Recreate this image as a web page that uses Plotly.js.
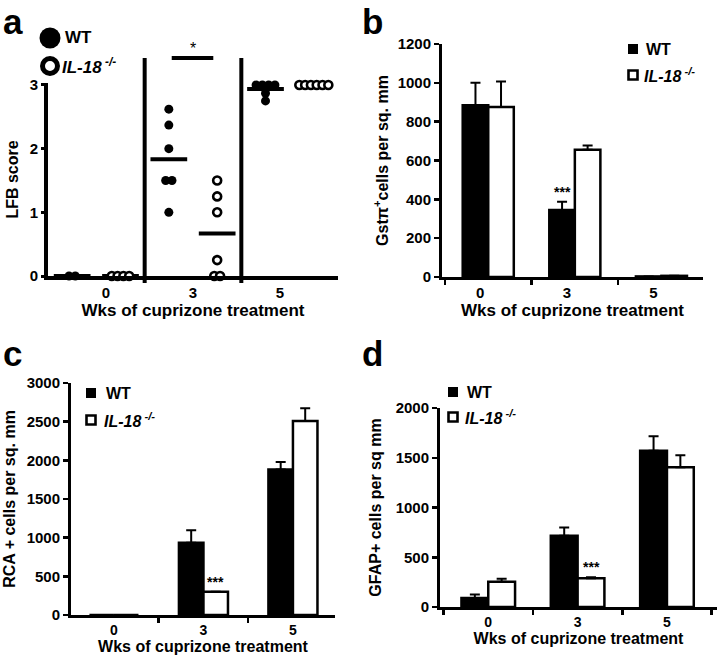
<!DOCTYPE html>
<html><head><meta charset="utf-8">
<script src="https://cdn.plot.ly/plotly-3.0.1.min.js"></script>
<style>html,body{margin:0;padding:0;background:#fff}</style>
</head><body><div id="chart" style="width:720px;height:655px"></div>
<script>
// ---------------- data ----------------
const weeks = ['0', '3', '5'];
const seriesNames = ['WT', 'IL-18 -/-'];
// panel a: LFB score per animal
const lfbWT = [[0, 0], [2.62, 2.37, 2, 1.5, 1.5, 1], [3, 3, 3, 3, 2.87, 2.75]];
const lfbKO = [[0, 0, 0, 0], [1.5, 1.25, 1, 0.25, 0, 0], [3, 3, 3, 3, 3, 3]];
// panel b: Gst-pi+ cells per sq. mm
const gstWT = [885, 345, 3];
const gstWTerr = [115, 42, 0];
const gstKO = [875, 655, 6];
const gstKOerr = [132, 22, 0];
// panel c: RCA+ cells per sq. mm
const rcaWT = [0, 935, 1880];
const rcaWTerr = [0, 160, 100];
const rcaKO = [0, 300, 2510];
const rcaKOerr = [0, 0, 165];
// panel d: GFAP+ cells per sq mm
const gfapWT = [90, 715, 1570];
const gfapWTerr = [35, 85, 145];
const gfapKO = [255, 290, 1405];
const gfapKOerr = [30, 8, 120];

// ---------------- helpers ----------------
const FONT = '"Liberation Sans", Arial, sans-serif';
const W = 720, H = 655;
const px = x => x / W;
const py = y => 1 - y / H;
const bold = (size) => ({family: FONT, size: size, color: '#000', weight: 'bold'});
const koLabel = '<i>IL-18<sup> -/-</sup></i>';

function swarm(vals, center, step) {
  const counts = {}, seen = {};
  vals.forEach(v => counts[v] = (counts[v] || 0) + 1);
  const xs = [], ys = [];
  vals.forEach(v => {
    const n = counts[v];
    const k = seen[v] = (seen[v] === undefined ? 0 : seen[v] + 1);
    xs.push(center + (k - (n - 1) / 2) * step);
    ys.push(v);
  });
  return {xs, ys};
}
const mean = a => a.reduce((s, v) => s + v, 0) / a.length;

const traces = [];
// ---- panel a ----
const aWx = [], aWy = [], aKx = [], aKy = [], mx = [], my = [];
weeks.forEach((w, i) => {
  const sw = swarm(lfbWT[i], i + 0.25, 0.065);
  aWx.push(...sw.xs); aWy.push(...sw.ys);
  const sk = swarm(lfbKO[i], i + 0.75, 0.06);
  aKx.push(...sk.xs); aKy.push(...sk.ys);
  const mw = mean(lfbWT[i]), mk = mean(lfbKO[i]);
  mx.push(i + 0.25 - 0.19, i + 0.25 + 0.19, null, i + 0.75 - 0.19, i + 0.75 + 0.19, null);
  my.push(mw, mw, null, mk, mk, null);
});
traces.push({type: 'scatter', mode: 'lines', x: mx, y: my, xaxis: 'x', yaxis: 'y',
  line: {color: '#000', width: 4}, cliponaxis: false, showlegend: false, hoverinfo: 'skip'});
traces.push({type: 'scatter', mode: 'markers', name: seriesNames[0], x: aWx, y: aWy, xaxis: 'x', yaxis: 'y',
  marker: {color: '#000', size: 9, line: {width: 0}}, cliponaxis: false, showlegend: false});
traces.push({type: 'scatter', mode: 'markers', name: seriesNames[1], x: aKx, y: aKy, xaxis: 'x', yaxis: 'y',
  marker: {color: '#fff', size: 8, line: {width: 2.6, color: '#000'}}, cliponaxis: false, showlegend: false});

// ---- bar panels ----
function barPair(ax, wt, wtErr, ko, koErr, width) {
  const zeros = weeks.map(() => 0);
  const common = {type: 'bar', x: weeks, xaxis: 'x' + ax, yaxis: 'y' + ax, width: width, showlegend: false, cliponaxis: false};
  traces.push(Object.assign({}, common, {name: seriesNames[0], y: wt, offset: -width,
    marker: {color: '#000', line: {color: '#000', width: 2.5}},
    error_y: {type: 'data', symmetric: false, array: wtErr, arrayminus: zeros, color: '#000', thickness: 2, width: 5}}));
  traces.push(Object.assign({}, common, {name: seriesNames[1], y: ko, offset: 0,
    marker: {color: '#fff', line: {color: '#000', width: 2.5}},
    error_y: {type: 'data', symmetric: false, array: koErr, arrayminus: zeros, color: '#000', thickness: 2, width: 5}}));
}
const wB = 0.295, wC = 0.274, wD = 0.30;
barPair(2, gstWT, gstWTerr, gstKO, gstKOerr, wB);
barPair(3, rcaWT, rcaWTerr, rcaKO, rcaKOerr, wC);
barPair(4, gfapWT, gfapWTerr, gfapKO, gfapKOerr, wD);

// ---------------- layout ----------------
function xCat(d0, d1, r, shift, tf, ttf, so) {
  return {domain: [px(d0), px(d1)], type: 'category', categoryorder: 'array', categoryarray: weeks,
    range: r, showline: true, linewidth: 3, linecolor: '#000', ticks: 'outside', tickson: 'boundaries',
    ticklen: 5, tickwidth: 2.5, tickcolor: '#000', showgrid: false, zeroline: false,
    tickfont: bold(tf), ticklabelshift: shift || 0, fixedrange: true,
    title: {text: 'Wks of cuprizone treatment', font: bold(ttf), standoff: so}};
}
function yLin(top, bottom, r, dtick, title, so) {
  return {domain: [py(bottom), py(top)], range: r, dtick: dtick, showline: true, linewidth: 3, linecolor: '#000',
    ticks: 'outside', ticklen: 5, tickwidth: 2.5, tickcolor: '#000', showgrid: false, zeroline: false,
    tickfont: bold(15), fixedrange: true, title: {text: title, font: bold(16), standoff: so}};
}

const layout = {
  width: W, height: H, margin: {l: 0, r: 0, t: 0, b: 0},
  paper_bgcolor: '#fff', plot_bgcolor: 'rgba(0,0,0,0)', showlegend: false, barmode: 'overlay',
  font: {family: FONT, color: '#000'},
  xaxis: {domain: [px(48), px(338)], range: [0, 3], anchor: 'y', showline: true, linewidth: 4, linecolor: '#000',
    tickmode: 'array', tickvals: weeks.map((w, i) => i + 0.5 + (1 - i) * 0.1), ticktext: weeks,
    ticks: '', showgrid: false, zeroline: false, tickfont: bold(15), fixedrange: true,
    title: {text: 'Wks of cuprizone treatment', font: bold(17), standoff: 2}},
  yaxis: {domain: [py(276), py(83)], range: [0, 3.031], anchor: 'x', tickvals: [0, 1, 2, 3],
    showline: true, linewidth: 4, linecolor: '#000', ticks: 'outside', ticklen: 3, tickwidth: 3, tickcolor: '#000',
    showgrid: false, zeroline: false, tickfont: bold(15), fixedrange: true,
    title: {text: 'LFB score', font: bold(16), standoff: 8}},
  xaxis2: Object.assign(xCat(442, 703, [-0.534, 2.48], -8, 15, 17, 2), {anchor: 'y2'}),
  yaxis2: Object.assign(yLin(44, 277, [0, 1200], 200, 'Gst&#960;<sup>+</sup>cells per sq. mm', 6), {anchor: 'x2'}),
  xaxis3: Object.assign(xCat(71, 335, [-0.48, 2.47], 0, 14, 16, 1), {anchor: 'y3'}),
  yaxis3: Object.assign(yLin(383, 615, [0, 3000], 500, 'RCA + cells per sq. mm', 8), {anchor: 'x3'}),
  xaxis4: Object.assign(xCat(440, 717, [-0.54, 2.56], 0, 14, 16, 1), {anchor: 'y4'}),
  yaxis4: Object.assign(yLin(408, 607, [0, 2000], 500, 'GFAP+ cells per sq mm', 11), {anchor: 'x4'}),
  shapes: [], annotations: []
};

// panel a: group separators and significance bar
[1, 2].forEach(b => layout.shapes.push({type: 'line', xref: 'x', yref: 'y domain', x0: b, x1: b,
  y0: -7 / 193, y1: 218 / 193, line: {color: '#000', width: 4}}));
layout.shapes.push({type: 'line', xref: 'x', yref: 'y domain', x0: 1.28, x1: 1.71, y0: 218 / 193, y1: 218 / 193,
  line: {color: '#000', width: 4}});
layout.annotations.push({xref: 'x', yref: 'y domain', x: 1.5, y: 218 / 193, yanchor: 'bottom', text: '*',
  showarrow: false, font: {family: FONT, size: 16, color: '#000'}, yshift: -1});

// significance stars on bar panels
layout.annotations.push({xref: 'x2', yref: 'y2', x: 1 - wB / 2, y: gstWT[1] + gstWTerr[1], yanchor: 'bottom',
  text: '***', showarrow: false, font: bold(14)});
layout.annotations.push({xref: 'x3', yref: 'y3', x: 1 + wC / 2, y: rcaKO[1] + rcaKOerr[1], yanchor: 'bottom',
  text: '***', showarrow: false, font: bold(14)});
layout.annotations.push({xref: 'x4', yref: 'y4', x: 1 + wD / 2, y: gfapKO[1] + gfapKOerr[1], yanchor: 'bottom',
  text: '***', showarrow: false, font: bold(14)});

// panel letters
[['a', 2, 22], ['b', 361, 22], ['c', 2, 354], ['d', 361, 354]].forEach(([t, x, y]) =>
  layout.annotations.push({xref: 'paper', yref: 'paper', x: px(x), y: py(y), xanchor: 'left', yanchor: 'middle',
    text: t, showarrow: false, font: bold(35), borderpad: 0}));

// legends
function legendSquares(x, yWT, yKO, textX, size) {
  const h = 5;
  layout.shapes.push({type: 'rect', xref: 'paper', yref: 'paper', x0: px(x - h), x1: px(x + h),
    y0: py(yWT + h), y1: py(yWT - h), fillcolor: '#000', line: {width: 0}});
  layout.shapes.push({type: 'rect', xref: 'paper', yref: 'paper', x0: px(x - h + 0.5), x1: px(x + h - 0.5),
    y0: py(yKO + h - 0.5), y1: py(yKO - h + 0.5), fillcolor: '#fff', line: {color: '#000', width: 2.6}});
  layout.annotations.push({xref: 'paper', yref: 'paper', x: px(textX + 2), y: py(yWT), xanchor: 'left', yanchor: 'middle',
    text: seriesNames[0], showarrow: false, font: bold(size)});
  layout.annotations.push({xref: 'paper', yref: 'paper', x: px(textX), y: py(yKO), xanchor: 'left', yanchor: 'middle',
    text: koLabel, showarrow: false, font: bold(size)});
}
legendSquares(633, 49, 75, 642, 16);
legendSquares(91, 393, 420, 102, 16);
legendSquares(453, 392, 417, 463, 16);
// panel a legend (circles)
layout.shapes.push({type: 'circle', xref: 'paper', yref: 'paper', x0: px(39.5), x1: px(60.5), y0: py(48.5), y1: py(27.5),
  fillcolor: '#000', line: {width: 0}});
layout.shapes.push({type: 'circle', xref: 'paper', yref: 'paper', x0: px(42.5), x1: px(57.5), y0: py(73.5), y1: py(58.5),
  fillcolor: '#fff', line: {color: '#000', width: 5}});
layout.annotations.push({xref: 'paper', yref: 'paper', x: px(63), y: py(38), xanchor: 'left', yanchor: 'middle',
  text: seriesNames[0], showarrow: false, font: bold(17)});
layout.annotations.push({xref: 'paper', yref: 'paper', x: px(60), y: py(66), xanchor: 'left', yanchor: 'middle',
  text: koLabel, showarrow: false, font: bold(17)});

Plotly.newPlot('chart', traces, layout, {staticPlot: true, displayModeBar: false});
</script>
</body></html>
